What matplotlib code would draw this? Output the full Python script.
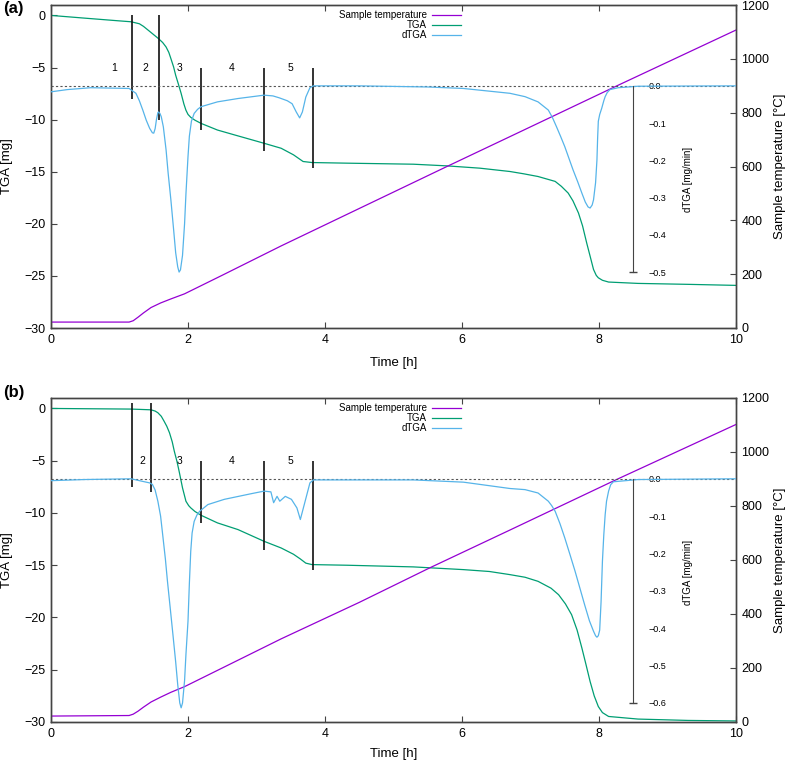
import matplotlib
matplotlib.use("Agg")
import matplotlib.pyplot as plt
from matplotlib.ticker import FixedLocator

plt.rcParams['font.family'] = ['Liberation Sans', 'DejaVu Sans']

PURPLE = "#9400d3"
GREEN = "#009e73"
BLUE = "#56b4e9"
BORDER = "#444444"

# ── panel (a) ──
TEMP_A_T = [0, 1.14, 1.20, 1.27, 1.35, 1.46, 1.60, 1.75, 1.95, 2.5, 3.36, 4.5, 5.78, 6.70, 8.23, 10.0]
TEMP_A = [22, 22, 27, 40, 56, 76, 93, 108, 127, 196, 305, 444, 600, 711, 896, 1107]

TGA_A_T = [0, 0.49, 0.97, 1.17, 1.29, 1.35, 1.41, 1.49, 1.57, 1.63, 1.68, 1.72, 1.75, 1.79,
           1.82, 1.86, 1.90, 1.94, 1.97, 2.00, 2.04, 2.10, 2.19, 2.43, 2.68, 3.11, 3.36,
           3.54, 3.68, 3.81, 4.32, 5.29, 5.78, 6.26, 6.70, 6.90, 7.11, 7.36, 7.45, 7.55,
           7.62, 7.70, 7.76, 7.82, 7.87, 7.92, 7.96, 7.99, 8.05, 8.14, 8.57, 9.30, 10.0]
TGA_A = [0.0, -0.26, -0.51, -0.61, -0.80, -1.05, -1.37, -1.80, -2.23, -2.60, -3.03, -3.55, -4.14, -4.95,
         -5.74, -6.60, -7.49, -8.50, -9.10, -9.50, -9.78, -10.05, -10.36, -11.0, -11.47, -12.27, -12.75,
         -13.38, -14.02, -14.12, -14.18, -14.28, -14.44, -14.66, -14.98, -15.20, -15.46, -15.93, -16.40, -17.05,
         -17.80, -18.96, -20.20, -21.83, -23.10, -24.38, -24.95, -25.18, -25.42, -25.59, -25.72, -25.81, -25.91]

DTGA_A_T = [0, 0.24, 0.58, 1.14, 1.24, 1.29, 1.34, 1.39, 1.44, 1.48, 1.50, 1.52, 1.54, 1.56,
            1.57, 1.59, 1.61, 1.64, 1.68, 1.71, 1.75, 1.79, 1.82, 1.85, 1.87, 1.89, 1.92,
            1.95, 1.97, 2.00, 2.02, 2.05, 2.09, 2.14, 2.19, 2.43, 2.73, 3.11, 3.24, 3.33,
            3.45, 3.52, 3.58, 3.63, 3.67, 3.72, 3.78, 3.83, 4.5, 5.5, 6.02, 6.70, 6.92,
            7.11, 7.26, 7.32, 7.38, 7.44, 7.50, 7.56, 7.62, 7.69, 7.75, 7.80, 7.84, 7.87,
            7.90, 7.92, 7.95, 7.97, 7.98, 7.99, 8.01, 8.04, 8.07, 8.09, 8.12, 8.16, 8.28,
            8.57, 10.0]
DTGA_A = [-0.016, -0.010, -0.005, -0.007, -0.020, -0.040, -0.065, -0.092, -0.114, -0.126,
          -0.127, -0.115, -0.090, -0.072, -0.070, -0.074, -0.083, -0.110, -0.172, -0.234,
          -0.306, -0.386, -0.448, -0.486, -0.500, -0.494, -0.455, -0.370, -0.290, -0.190,
          -0.135, -0.095, -0.074, -0.063, -0.056, -0.043, -0.034, -0.025, -0.027, -0.032,
          -0.040, -0.048, -0.070, -0.086, -0.070, -0.030, -0.005, 0.0, 0.0, -0.003,
          -0.007, -0.020, -0.029, -0.043, -0.065, -0.085, -0.110, -0.136, -0.163, -0.194,
          -0.225, -0.258, -0.288, -0.312, -0.325, -0.328, -0.320, -0.306, -0.260, -0.199,
          -0.140, -0.095, -0.077, -0.060, -0.040, -0.029, -0.018, -0.010, -0.005, -0.001,
          0.0]

SEG_A_T = [1.18, 1.57, 2.19, 3.11, 3.82]
SEG_A_TOP = [0.0, 0.0, -5.0, -5.0, -5.0]
SEG_A_BOT = [-8.0, -10.0, -11.0, -13.0, -14.6]
LAB_A_T = [0.92, 1.38, 1.88, 2.63, 3.49]
LAB_A = ["1", "2", "3", "4", "5"]
DT_TICKS_A = [0.0, -0.1, -0.2, -0.3, -0.4, -0.5]

# ── panel (b) ──
TEMP_B_T = [0, 1.14, 1.20, 1.27, 1.35, 1.46, 1.60, 1.75, 1.95, 2.5, 3.36, 4.5, 5.53, 6.70, 8.23, 10.0]
TEMP_B = [22, 24, 29, 40, 55, 74, 92, 110, 131, 200, 308, 443, 571, 711, 895, 1102]

TGA_B_T = [0, 1.17, 1.46, 1.52, 1.56, 1.61, 1.65, 1.69, 1.73, 1.77, 1.80, 1.84, 1.87, 1.92,
           1.97, 2.01, 2.04, 2.10, 2.19, 2.43, 2.73, 3.11, 3.36, 3.54, 3.64, 3.72, 3.81,
           4.32, 5.29, 6.02, 6.40, 6.70, 6.92, 7.11, 7.30, 7.41, 7.51, 7.60, 7.68, 7.75,
           7.81, 7.87, 7.93, 7.99, 8.05, 8.14, 8.57, 9.30, 10.0]
TGA_B = [0.0, -0.06, -0.13, -0.25, -0.41, -0.75, -1.21, -1.70, -2.33, -3.20, -4.09, -5.10, -6.0, -7.6,
         -8.88, -9.30, -9.51, -9.85, -10.22, -10.95, -11.59, -12.71, -13.35, -13.95, -14.40, -14.80, -14.94,
         -15.0, -15.16, -15.42, -15.60, -15.90, -16.15, -16.54, -17.20, -17.82, -18.70, -19.73, -21.20, -22.92,
         -24.50, -26.12, -27.50, -28.52, -29.10, -29.47, -29.72, -29.85, -29.90]

DTGA_B_T = [0, 0.49, 1.17, 1.29, 1.44, 1.48, 1.52, 1.56, 1.60, 1.63, 1.67, 1.70, 1.74, 1.78,
            1.82, 1.85, 1.88, 1.90, 1.92, 1.95, 1.97, 2.00, 2.02, 2.04, 2.06, 2.09, 2.13,
            2.17, 2.29, 2.53, 2.92, 3.11, 3.21, 3.25, 3.30, 3.34, 3.42, 3.51, 3.59, 3.64,
            3.71, 3.78, 3.83, 5.29, 6.02, 6.70, 6.92, 7.11, 7.26, 7.31, 7.36, 7.43, 7.50,
            7.58, 7.65, 7.72, 7.79, 7.86, 7.92, 7.95, 7.97, 7.99, 8.01, 8.03, 8.05, 8.07,
            8.09, 8.11, 8.14, 8.17, 8.21, 8.57, 10.0]
DTGA_B = [-0.005, -0.002, 0.0, -0.005, -0.011, -0.015, -0.030, -0.060, -0.100, -0.149,
          -0.215, -0.274, -0.345, -0.417, -0.490, -0.551, -0.600, -0.613, -0.600, -0.540,
          -0.470, -0.381, -0.280, -0.194, -0.145, -0.114, -0.097, -0.087, -0.069, -0.055,
          -0.040, -0.033, -0.035, -0.064, -0.047, -0.060, -0.047, -0.055, -0.078, -0.109,
          -0.060, -0.011, -0.003, -0.003, -0.009, -0.026, -0.029, -0.038, -0.060, -0.072,
          -0.087, -0.120, -0.158, -0.205, -0.247, -0.292, -0.337, -0.380, -0.408, -0.420,
          -0.424, -0.420, -0.405, -0.330, -0.221, -0.150, -0.096, -0.060, -0.033, -0.016,
          -0.008, -0.002, 0.0]

SEG_B_T = [1.18, 1.46, 2.19, 3.11, 3.82]
SEG_B_TOP = [0.5, 0.5, -5.0, -5.0, -5.0]
SEG_B_BOT = [-7.5, -8.0, -11.0, -13.5, -15.5]
LAB_B_T = [1.33, 1.88, 2.63, 3.49]
LAB_B = ["2", "3", "4", "5"]
DT_TICKS_B = [0.0, -0.1, -0.2, -0.3, -0.4, -0.5, -0.6]

X_TICKS = [0, 2, 4, 6, 8, 10]
TGA_TICKS = [0, -5, -10, -15, -20, -25, -30]
TEMP_TICKS = [0, 200, 400, 600, 800, 1000, 1200]

TGA_LIM = (-30, 1)
DT_SCALE = 35.75   # mg on the TGA axis per 1 mg/min
DT_AXIS_X = 8.5


def draw_panel(fig, rect, tag, tag_y, temp_t, temp, tga_t, tga, dt_t, dt,
               seg_t, seg_top, seg_bot, lab_t, labs, dt_ticks, dt_zero, xlab_y):
    ax = fig.add_axes(rect)
    ax2 = ax.twinx()
    ax3 = ax.twinx()

    # TGA + phase markers
    ax.plot(tga_t, tga, color=GREEN, lw=0.9, label="TGA")
    ax.vlines(seg_t, seg_bot, seg_top, color="#111111", lw=1.2)
    for t, s in zip(lab_t, labs):
        ax.text(t, -5.0, s, fontsize=7.5, ha="center", va="center")
    ax.set_xlim(0, 10)
    ax.set_ylim(*TGA_LIM)
    ax.set_xticks(X_TICKS)
    ax.set_yticks(TGA_TICKS)
    ax.tick_params(direction="in", top=True, right=False, length=4, width=0.8,
                   labelsize=9, color=BORDER, pad=4)
    ax.set_xlabel("Time [h]", fontsize=9.5)
    ax.xaxis.set_label_coords(0.5, xlab_y)
    ax.set_ylabel("TGA [mg]", fontsize=9.5)
    ax.yaxis.set_label_coords(-0.0555, 0.5)

    # temperature
    ax2.plot(temp_t, temp, color=PURPLE, lw=0.9, label="Sample temperature")
    ax2.set_ylim(0, 1200)
    ax2.set_yticks(TEMP_TICKS)
    ax2.tick_params(direction="in", length=4, width=0.8, labelsize=9, color=BORDER, pad=4)
    ax2.set_ylabel("Sample temperature [°C]", fontsize=9.5)
    ax2.yaxis.set_label_coords(1.0555, 0.5)

    # dTGA on an inner axis
    lo = (TGA_LIM[0] - dt_zero) / DT_SCALE
    hi = (TGA_LIM[1] - dt_zero) / DT_SCALE
    ax3.axhline(0.0, color="#555555", lw=0.8, ls=(0, (2, 2)))
    ax3.plot(dt_t, dt, color=BLUE, lw=0.9, label="dTGA")
    ax3.set_ylim(lo, hi)
    for sp in ("top", "bottom", "left"):
        ax3.spines[sp].set_visible(False)
    ax3.spines["right"].set_position(("data", DT_AXIS_X))
    ax3.spines["right"].set_bounds(dt_ticks[-1], 0.0)
    ax3.spines["right"].set_color(BORDER)
    ax3.set_yticks(dt_ticks)
    ax3.set_yticklabels([f"{v:.1f}".replace("-", "\u2212") for v in dt_ticks])
    ax3.yaxis.remove_overlapping_locs = False
    ax3.yaxis.set_minor_locator(FixedLocator([dt_ticks[-1]]))
    ax3.tick_params(axis="y", which="major", length=0, pad=11, labelsize=6.5)
    ax3.tick_params(axis="y", which="minor", direction="inout", length=6, width=1.0,
                    color=BORDER, right=True)
    ax3.text(9.3, -0.25, "dTGA [mg/min]", rotation=90, fontsize=7, ha="center", va="center")

    for a in (ax, ax2):
        for sp in a.spines.values():
            sp.set_color(BORDER)
            sp.set_linewidth(1.0)

    handles = ax2.get_lines() + ax.get_lines()[:1] + ax3.get_lines()[1:]
    ax3.legend(handles, [h.get_label() for h in handles], loc="upper right",
               bbox_to_anchor=(0.598, 0.984), markerfirst=False, frameon=False,
               fontsize=7, handlelength=2.9, labelspacing=0.0, borderpad=0,
               borderaxespad=0, handletextpad=0.6)

    fig.text(0.004, tag_y, tag, fontsize=12, fontweight="bold", ha="left", va="top")


fig = plt.figure(figsize=(7.87, 7.61), dpi=100)
draw_panel(fig, [51 / 787, 433 / 761, 685 / 787, 323 / 761], "(a)", 0.999,
           TEMP_A_T, TEMP_A, TGA_A_T, TGA_A, DTGA_A_T, DTGA_A,
           SEG_A_T, SEG_A_TOP, SEG_A_BOT, LAB_A_T, LAB_A, DT_TICKS_A, -6.76, -0.089)
draw_panel(fig, [51 / 787, 39 / 761, 685 / 787, 324 / 761], "(b)", 0.494,
           TEMP_B_T, TEMP_B, TGA_B_T, TGA_B, DTGA_B_T, DTGA_B,
           SEG_B_T, SEG_B_TOP, SEG_B_BOT, LAB_B_T, LAB_B, DT_TICKS_B, -6.73, -0.080)
fig.savefig("out.png", dpi=100)
